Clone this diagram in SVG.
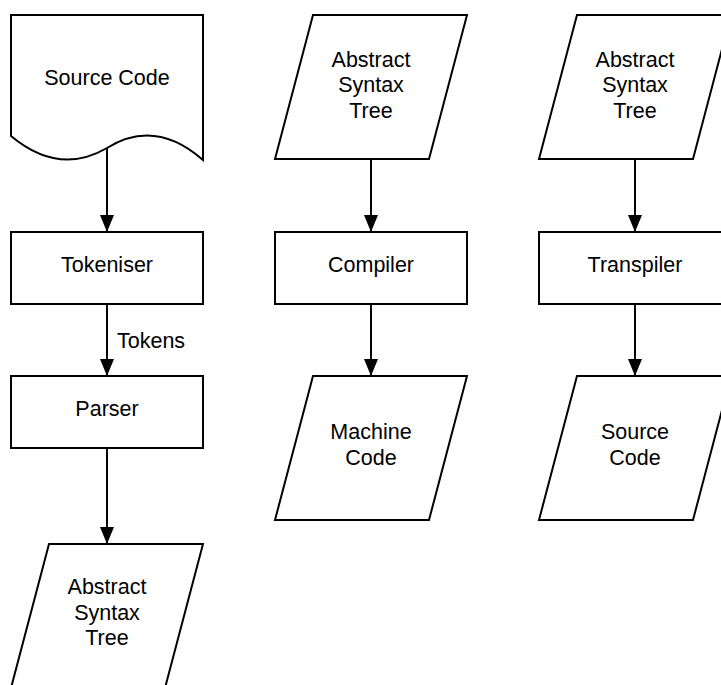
<svg xmlns="http://www.w3.org/2000/svg" width="721" height="685" viewBox="0 0 721 685">
<style>
.s{fill:#fff;stroke:#000;stroke-width:2;stroke-linejoin:miter}
.t{font-family:"Liberation Sans",Arial,sans-serif;font-size:21.5px;fill:#000;text-anchor:middle}
.c{fill:none;stroke:#000;stroke-width:2}
</style>
<defs>
<marker id="ah" markerUnits="userSpaceOnUse" markerWidth="18" markerHeight="16" viewBox="0 0 18 16" refX="17" refY="8" orient="auto">
<path d="M0,1 L17,8 L0,15 Z" fill="#000"/>
</marker>
</defs>
<rect width="721" height="685" fill="#fff"/>
<g id="connectors">
<path class="c" d="M107,148 V232" marker-end="url(#ah)"/>
<path class="c" d="M107,304 V376" marker-end="url(#ah)"/>
<text class="t" x="117" y="348" style="text-anchor:start">Tokens</text>
<path class="c" d="M107,448 V544" marker-end="url(#ah)"/>
<path class="c" d="M371,159 V232" marker-end="url(#ah)"/>
<path class="c" d="M371,304 V376" marker-end="url(#ah)"/>
<path class="c" d="M635,159 V232" marker-end="url(#ah)"/>
<path class="c" d="M635,304 V376" marker-end="url(#ah)"/>
</g>
<g id="source-code-doc">
<path class="s" d="M11,15 H203 V160 Q155,118 107,148 Q59,176 11,136 Z"/>
<text class="t" x="107" y="85">Source Code</text>
</g>
<g id="tokeniser">
<rect class="s" x="11" y="232" width="192" height="72"/>
<text class="t" x="107" y="272">Tokeniser</text>
</g>
<g id="parser">
<rect class="s" x="11" y="376" width="192" height="72"/>
<text class="t" x="107" y="416">Parser</text>
</g>
<g id="ast-1">
<path class="s" d="M49,544 H203 L165,688 H11 Z"/>
<text class="t" x="107" y="594">Abstract</text>
<text class="t" x="107" y="620">Syntax</text>
<text class="t" x="107" y="645">Tree</text>
</g>
<g id="ast-2">
<path class="s" d="M313,15 H467 L429,159 H275 Z"/>
<text class="t" x="371" y="67">Abstract</text>
<text class="t" x="371" y="92">Syntax</text>
<text class="t" x="371" y="118">Tree</text>
</g>
<g id="compiler">
<rect class="s" x="275" y="232" width="192" height="72"/>
<text class="t" x="371" y="272">Compiler</text>
</g>
<g id="machine-code">
<path class="s" d="M313,376 H467 L429,520 H275 Z"/>
<text class="t" x="371" y="439">Machine</text>
<text class="t" x="371" y="465">Code</text>
</g>
<g id="ast-3">
<path class="s" d="M577,15 H731 L693,159 H539 Z"/>
<text class="t" x="635" y="67">Abstract</text>
<text class="t" x="635" y="92">Syntax</text>
<text class="t" x="635" y="118">Tree</text>
</g>
<g id="transpiler">
<rect class="s" x="539" y="232" width="192" height="72"/>
<text class="t" x="635" y="272">Transpiler</text>
</g>
<g id="source-code-out">
<path class="s" d="M577,376 H731 L693,520 H539 Z"/>
<text class="t" x="635" y="439">Source</text>
<text class="t" x="635" y="465">Code</text>
</g>
</svg>
